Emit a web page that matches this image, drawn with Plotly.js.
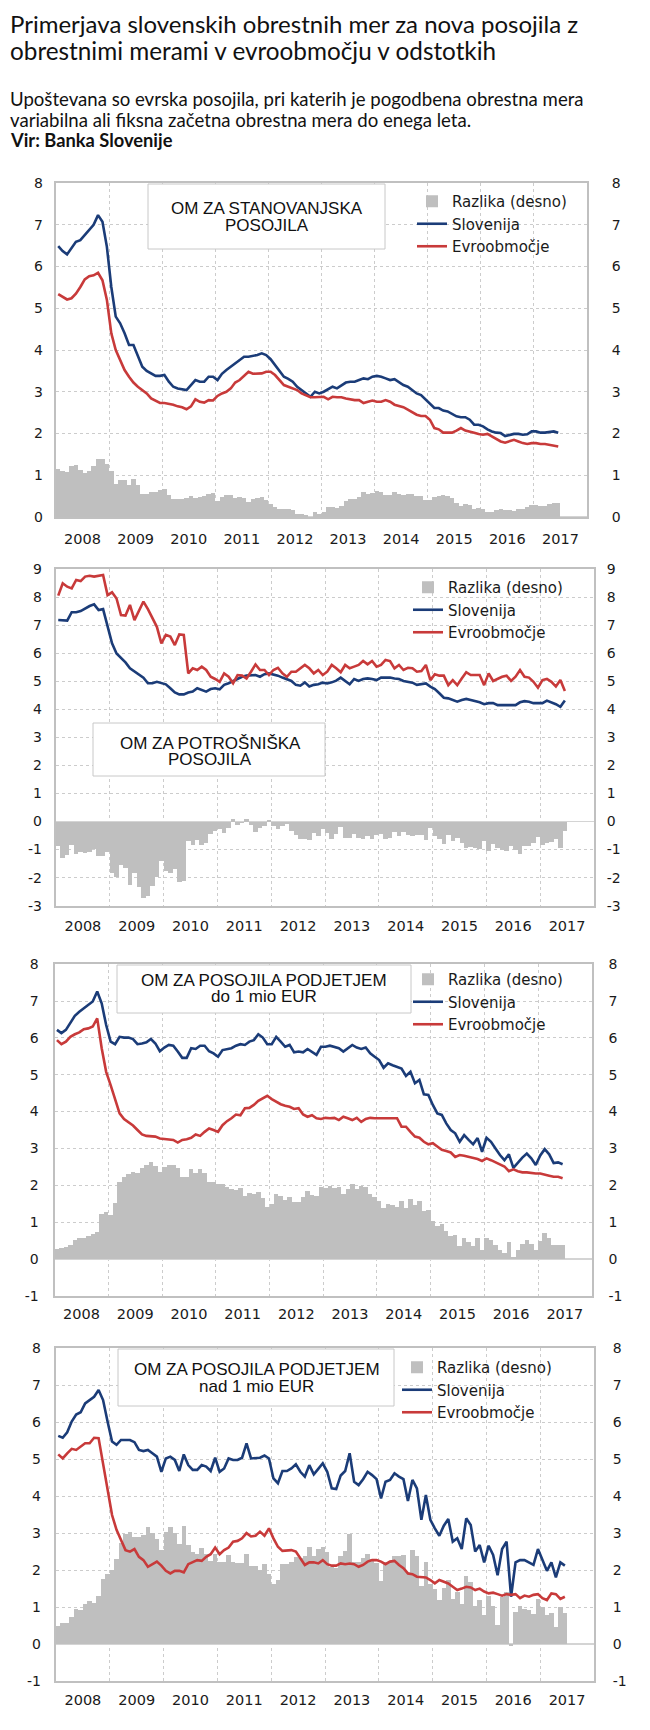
<!DOCTYPE html>
<html><head><meta charset="utf-8">
<script src="https://cdn.plot.ly/plotly-3.0.1.min.js"></script>
<style>html,body{margin:0;padding:0;background:#fff}#chart{width:650px;height:1730px}</style>
</head><body><div id="chart"></div>
<script>
// Monthly data, January 2008 – June 2017 (114 months)
const years = ['2008','2009','2010','2011','2012','2013','2014','2015','2016','2017'];
const seriesNames = ['Razlika (desno)', 'Slovenija', 'Evroobmočje'];

// OM za stanovanjska posojila
const stanSlovenija = [6.49,6.37,6.29,6.45,6.59,6.63,6.75,6.88,7.0,7.23,7.07,6.47,5.51,4.8,4.64,4.4,4.12,4.12,3.88,3.6,3.5,3.44,3.38,3.38,3.4,3.24,3.12,3.08,3.06,3.04,3.16,3.28,3.24,3.24,3.36,3.36,3.28,3.43,3.52,3.6,3.68,3.76,3.84,3.84,3.86,3.88,3.92,3.88,3.78,3.64,3.48,3.36,3.31,3.24,3.12,3.04,2.96,2.88,3.0,2.96,3.0,3.06,3.12,3.08,3.14,3.22,3.24,3.24,3.28,3.32,3.3,3.36,3.38,3.36,3.32,3.28,3.3,3.22,3.16,3.12,3.04,2.96,2.92,2.82,2.73,2.61,2.61,2.55,2.53,2.47,2.41,2.39,2.39,2.33,2.21,2.21,2.17,2.1,2.05,2.02,2.01,1.94,1.97,1.99,1.99,1.97,1.98,2.05,2.05,2.02,2.02,2.03,2.05,2.02];
const stanEvro = [5.34,5.27,5.21,5.24,5.35,5.51,5.69,5.77,5.79,5.85,5.67,5.2,4.4,4.0,3.76,3.52,3.36,3.22,3.12,3.04,2.96,2.84,2.79,2.73,2.73,2.71,2.69,2.65,2.63,2.58,2.65,2.82,2.76,2.74,2.8,2.79,2.9,2.96,3.0,3.08,3.22,3.28,3.38,3.48,3.43,3.43,3.44,3.48,3.48,3.4,3.28,3.16,3.12,3.08,3.04,2.96,2.92,2.87,2.87,2.88,2.88,2.82,2.88,2.87,2.87,2.84,2.82,2.8,2.8,2.73,2.76,2.79,2.76,2.76,2.8,2.76,2.69,2.66,2.63,2.57,2.5,2.45,2.42,2.42,2.33,2.13,2.1,2.02,2.02,2.02,2.07,2.13,2.07,2.05,2.02,1.99,1.97,1.99,1.93,1.85,1.81,1.78,1.81,1.85,1.81,1.77,1.75,1.77,1.77,1.75,1.75,1.73,1.71,1.69];

// OM za potrošniška posojila
const potrSlovenija = [7.18,7.18,7.16,7.46,7.46,7.5,7.6,7.68,7.74,7.54,7.57,7.0,6.35,5.99,5.82,5.67,5.46,5.34,5.22,5.13,4.93,4.93,4.98,4.93,4.89,4.75,4.6,4.53,4.53,4.6,4.63,4.75,4.69,4.63,4.72,4.75,4.71,4.87,4.93,5.01,5.1,5.16,5.2,5.22,5.22,5.16,5.25,5.28,5.25,5.2,5.13,5.08,5.01,4.87,4.84,4.96,4.81,4.87,4.89,4.95,4.92,4.96,5.02,5.13,5.01,4.89,5.08,5.01,5.08,5.1,5.08,5.04,5.13,5.13,5.13,5.1,5.08,5.01,4.99,4.95,4.87,4.89,4.92,4.81,4.72,4.57,4.41,4.39,4.33,4.27,4.33,4.37,4.33,4.29,4.25,4.18,4.22,4.22,4.15,4.15,4.15,4.15,4.15,4.25,4.29,4.27,4.22,4.22,4.22,4.31,4.25,4.18,4.09,4.31];
const potrEvro = [8.05,8.49,8.37,8.31,8.61,8.57,8.73,8.76,8.73,8.76,8.79,8.07,8.17,7.95,7.36,7.34,7.72,7.18,7.54,7.84,7.57,7.24,6.94,6.35,6.65,6.59,6.29,6.67,6.65,5.28,5.46,5.4,5.52,5.4,5.16,5.08,4.98,5.28,5.16,4.93,5.22,5.2,5.1,5.34,5.6,5.4,5.4,5.22,5.4,5.48,5.28,5.16,5.34,5.34,5.46,5.58,5.46,5.28,5.4,5.22,5.34,5.58,5.46,5.32,5.58,5.46,5.52,5.58,5.72,5.6,5.72,5.52,5.58,5.76,5.72,5.46,5.58,5.4,5.48,5.46,5.34,5.36,5.58,5.04,5.25,5.2,5.2,4.86,5.04,4.86,5.1,5.32,5.22,5.22,5.22,4.86,5.28,5.01,5.1,5.16,5.2,5.01,5.16,5.4,5.16,5.13,4.98,4.77,5.04,5.08,4.98,4.81,5.04,4.65];

// OM za posojila podjetjem do 1 mio EUR
const podDoSlovenija = [6.22,6.13,6.22,6.42,6.6,6.71,6.8,6.89,6.99,7.26,6.94,6.35,5.9,5.83,6.03,6.01,6.01,5.97,5.83,5.85,5.88,5.97,5.85,5.64,5.74,5.81,5.79,5.63,5.46,5.46,5.72,5.7,5.79,5.79,5.64,5.58,5.49,5.67,5.7,5.72,5.79,5.83,5.81,5.9,5.94,6.1,6.01,5.83,5.83,6.03,5.9,5.76,5.81,5.61,5.63,5.61,5.7,5.63,5.54,5.76,5.76,5.79,5.76,5.72,5.63,5.72,5.81,5.74,5.7,5.74,5.58,5.49,5.4,5.19,5.31,5.26,5.22,5.17,4.97,5.08,4.77,4.86,4.47,4.45,4.18,3.95,3.91,3.68,3.5,3.41,3.18,3.36,3.23,3.11,3.28,2.91,3.29,3.18,3.0,2.82,2.68,2.84,2.47,2.62,2.75,2.86,2.73,2.55,2.81,2.98,2.84,2.6,2.62,2.57];
const podDoEvro = [5.94,5.83,5.9,6.03,6.1,6.15,6.24,6.26,6.31,6.53,5.72,5.08,4.72,4.31,3.95,3.8,3.71,3.62,3.5,3.38,3.34,3.34,3.32,3.27,3.25,3.25,3.23,3.16,3.23,3.25,3.29,3.38,3.34,3.45,3.54,3.5,3.45,3.63,3.74,3.82,3.92,3.9,4.09,4.1,4.18,4.29,4.36,4.43,4.34,4.27,4.2,4.16,4.13,4.07,4.09,3.92,3.86,3.9,3.82,3.8,3.83,3.82,3.83,3.77,3.86,3.82,3.77,3.83,3.72,3.8,3.83,3.82,3.82,3.82,3.82,3.8,3.82,3.59,3.59,3.45,3.32,3.29,3.18,3.11,3.14,3.05,2.96,2.93,2.89,2.77,2.82,2.8,2.77,2.75,2.71,2.66,2.73,2.68,2.62,2.57,2.51,2.38,2.43,2.38,2.35,2.35,2.33,2.32,2.32,2.28,2.26,2.23,2.23,2.19];

// OM za posojila podjetjem nad 1 mio EUR
const podNadSlovenija = [5.63,5.58,5.73,6.02,6.21,6.27,6.51,6.6,6.69,6.87,6.6,6.02,5.48,5.39,5.52,5.52,5.52,5.46,5.25,5.22,5.25,5.16,5.07,4.66,5.02,5.07,4.98,4.68,5.13,4.84,4.71,4.71,4.84,4.8,4.68,5.04,4.66,4.75,5.02,4.98,4.98,5.04,5.43,5.02,5.04,5.04,5.1,5.02,4.48,4.35,4.68,4.68,4.75,4.86,4.66,4.53,4.84,4.59,4.74,4.89,4.66,4.21,4.19,4.56,4.68,5.16,4.39,4.3,4.46,4.66,4.57,4.46,3.94,4.39,4.44,4.62,4.53,4.46,3.87,4.44,4.21,3.36,4.03,3.36,3.13,2.93,3.2,3.38,2.77,2.86,2.57,3.4,3.22,2.5,2.68,2.21,2.66,2.41,1.86,2.57,2.77,1.28,2.21,2.27,2.27,2.21,2.14,2.57,2.25,1.98,2.21,1.8,2.21,2.12];
const podNadEvro = [5.13,5.02,5.16,5.28,5.25,5.34,5.43,5.43,5.58,5.57,4.84,4.12,3.49,3.09,2.79,2.54,2.5,2.57,2.36,2.27,2.09,2.16,2.23,2.12,1.98,1.91,1.98,1.98,1.94,2.16,2.21,2.27,2.25,2.36,2.43,2.61,2.43,2.54,2.61,2.77,2.79,2.86,3.0,2.91,2.93,3.04,2.93,3.13,2.86,2.63,2.52,2.52,2.54,2.5,2.32,2.14,2.21,2.21,2.18,2.27,2.16,2.12,2.12,2.18,2.16,2.18,2.16,2.09,2.14,2.23,2.27,2.27,2.23,2.16,2.23,2.25,2.14,2.05,1.91,1.89,1.82,1.8,1.8,1.73,1.64,1.73,1.69,1.64,1.55,1.46,1.5,1.55,1.53,1.46,1.5,1.42,1.37,1.39,1.35,1.31,1.35,1.33,1.35,1.24,1.31,1.28,1.33,1.35,1.24,1.19,1.37,1.35,1.22,1.28];

// ---------- layout helpers (pixel positions -> paper) ----------
const W = 650, H = 1730;
const fx = p => p / W;
const fy = p => 1 - p / H;

const COL_BAR = '#bfbfbf', COL_SLO = '#1b3c78', COL_EA = '#c83a3a';
const GRID = '#cccccc', FRAME = '#c0c0c0';
const tickFont = {family: 'DejaVu Sans, Arial, sans-serif', size: 14, color: '#1a1a1a'};

const panels = [
  {slo: stanSlovenija, ea: stanEvro, range: [0, 8],
   frame: {l: 56, r: 587, t: 183, b: 517}, leg: {x: 412, y: 185},
   box: {l: 148, r: 385, t: 184, b: 249}, title: ['OM ZA STANOVANJSKA', 'POSOJILA'], ty: [208.5, 226], tx: 266.5,
   rStand: 20, lStand: 12, xStand: 8},
  {slo: potrSlovenija, ea: potrEvro, range: [-3, 9],
   frame: {l: 56, r: 594, t: 569, b: 905.7}, leg: {x: 408, y: 571},
   box: {l: 93, r: 325, t: 723, b: 776}, title: ['OM ZA POTROŠNIŠKA', 'POSOJILA'], ty: [743, 759], tx: 210,
   rStand: 8, lStand: 13, xStand: 6},
  {slo: podDoSlovenija, ea: podDoEvro, range: [-1, 8],
   frame: {l: 54.7, r: 591.7, t: 964.3, b: 1295.7}, leg: {x: 408, y: 963},
   box: {l: 117, r: 411, t: 965, b: 1013}, title: ['OM ZA POSOJILA PODJETJEM', 'do 1 mio EUR'], ty: [980.5, 997], tx: 263.5,
   rStand: 12, lStand: 15, xStand: 4},
  {slo: podNadSlovenija, ea: podNadEvro, range: [-1, 8],
   frame: {l: 56, r: 594, t: 1348.3, b: 1681}, leg: {x: 397, y: 1351},
   box: {l: 118, r: 394, t: 1349, b: 1406}, title: ['OM ZA POSOJILA PODJETJEM', 'nad 1 mio EUR'], ty: [1369, 1386], tx: 256.5,
   rStand: 14, lStand: 14, xStand: 5}
];

const months = stanSlovenija.map((_, i) => i); // month index from Jan 2008
const tickvals = years.map((_, k) => 12 * k + 5.5);

const data = [];
const layout = {
  width: W, height: H, margin: {l: 0, r: 0, t: 0, b: 0},
  paper_bgcolor: '#ffffff', plot_bgcolor: '#ffffff',
  showlegend: true, bargap: 0, barmode: 'overlay',
  shapes: [], annotations: []
};

panels.forEach((p, k) => {
  const xn = k === 0 ? 'x' : 'x' + (k + 1);
  const ybNum = 2 * k + 1, yoNum = 2 * k + 2;
  const yb = ybNum === 1 ? 'y' : 'y' + ybNum;
  const yo = 'y' + yoNum;
  const legKey = k === 0 ? 'legend' : 'legend' + (k + 1);
  const diff = p.slo.map((v, i) => +(v - p.ea[i]).toFixed(2));
  const yTicks = [];
  for (let v = p.range[0]; v <= p.range[1]; v++) yTicks.push(v);
  const yText = yTicks.map(v => String(v));

  data.push({type: 'bar', x: months, y: diff, xaxis: xn, yaxis: yb, name: seriesNames[0],
    marker: {color: COL_BAR, line: {width: 0}}, width: 1, legend: legKey, hoverinfo: 'skip'});
  data.push({type: 'scatter', mode: 'lines', x: months, y: p.slo, xaxis: xn, yaxis: yo, name: seriesNames[1],
    line: {color: COL_SLO, width: 2.6}, legend: legKey, hoverinfo: 'skip'});
  data.push({type: 'scatter', mode: 'lines', x: months, y: p.ea, xaxis: xn, yaxis: yo, name: seriesNames[2],
    line: {color: COL_EA, width: 2.6}, legend: legKey, hoverinfo: 'skip'});

  const xKey = k === 0 ? 'xaxis' : 'xaxis' + (k + 1);
  layout[xKey] = {
    domain: [fx(p.frame.l), fx(p.frame.r)], anchor: yb, range: [-0.5, 119.5],
    tickmode: 'array', tickvals: tickvals, ticktext: years, ticks: '',
    tickfont: Object.assign({}, tickFont, {size: 14.5}), ticklabelstandoff: p.xStand,
    showgrid: false, zeroline: false, showline: true, mirror: true, linecolor: FRAME, linewidth: 2,
    minor: {tick0: -0.5, dtick: 12, showgrid: true, gridcolor: GRID, griddash: '3px,3px', gridwidth: 1, ticks: ''},
    fixedrange: true
  };
  layout['yaxis' + (ybNum === 1 ? '' : ybNum)] = {
    domain: [fy(p.frame.b), fy(p.frame.t)], anchor: xn, side: 'right', range: p.range,
    tickmode: 'array', tickvals: yTicks, ticktext: yText, ticks: '', tickfont: tickFont, ticklabelstandoff: p.rStand,
    showgrid: true, gridcolor: GRID, griddash: '3px,3px', gridwidth: 1,
    zeroline: true, zerolinecolor: '#d4d4d4', zerolinewidth: 1.5,
    showline: true, mirror: true, linecolor: FRAME, linewidth: 2, fixedrange: true
  };
  layout['yaxis' + yoNum] = {
    overlaying: yb, anchor: xn, side: 'left', range: p.range,
    tickmode: 'array', tickvals: yTicks, ticktext: yText, ticks: '', tickfont: tickFont, ticklabelstandoff: p.lStand,
    showgrid: false, zeroline: false, showline: false, fixedrange: true
  };
  layout[legKey] = {
    x: fx(p.leg.x), y: fy(p.leg.y), xanchor: 'left', yanchor: 'top', xref: 'paper', yref: 'paper',
    bgcolor: 'rgba(0,0,0,0)', borderwidth: 0, traceorder: 'normal', tracegroupgap: 0,
    font: {family: 'DejaVu Sans, Arial, sans-serif', size: 15, color: '#1a1a1a'}
  };

  layout.shapes.push({type: 'rect', xref: 'paper', yref: 'paper', layer: 'above',
    x0: fx(p.box.l), x1: fx(p.box.r), y0: fy(p.box.b), y1: fy(p.box.t),
    line: {color: '#c8c8c8', width: 1}, fillcolor: '#ffffff'});
  p.title.forEach((t, j) => layout.annotations.push({
    text: t, xref: 'paper', yref: 'paper', x: fx(p.tx), y: fy(p.ty[j]), xanchor: 'center', yanchor: 'middle',
    showarrow: false, font: {family: 'Liberation Sans, Arial, sans-serif', size: 17, color: '#111'}
  }));
});

// header texts
const headFont = 'Lato, Open Sans, sans-serif';
[
  {t: 'Primerjava slovenskih obrestnih mer za nova posojila z', y: 24, s: 24},
  {t: 'obrestnimi merami v evroobmočju v odstotkih', y: 51, s: 24.3},
  {t: 'Upoštevana so evrska posojila, pri katerih je pogodbena obrestna mera', y: 99, s: 18.6},
  {t: 'variabilna ali fiksna začetna obrestna mera do enega leta.', y: 120.5, s: 18.6},
  {t: '<b>Vir: Banka Slovenije</b>', y: 140.5, s: 18.3}
].forEach(h => layout.annotations.push({
  text: h.t, xref: 'paper', yref: 'paper', x: fx(8), y: fy(h.y), xanchor: 'left', yanchor: 'middle',
  showarrow: false, align: 'left', font: {family: headFont, size: h.s, color: '#111'}
}));

Plotly.newPlot('chart', data, layout, {staticPlot: true, displayModeBar: false});
</script>
</body></html>
